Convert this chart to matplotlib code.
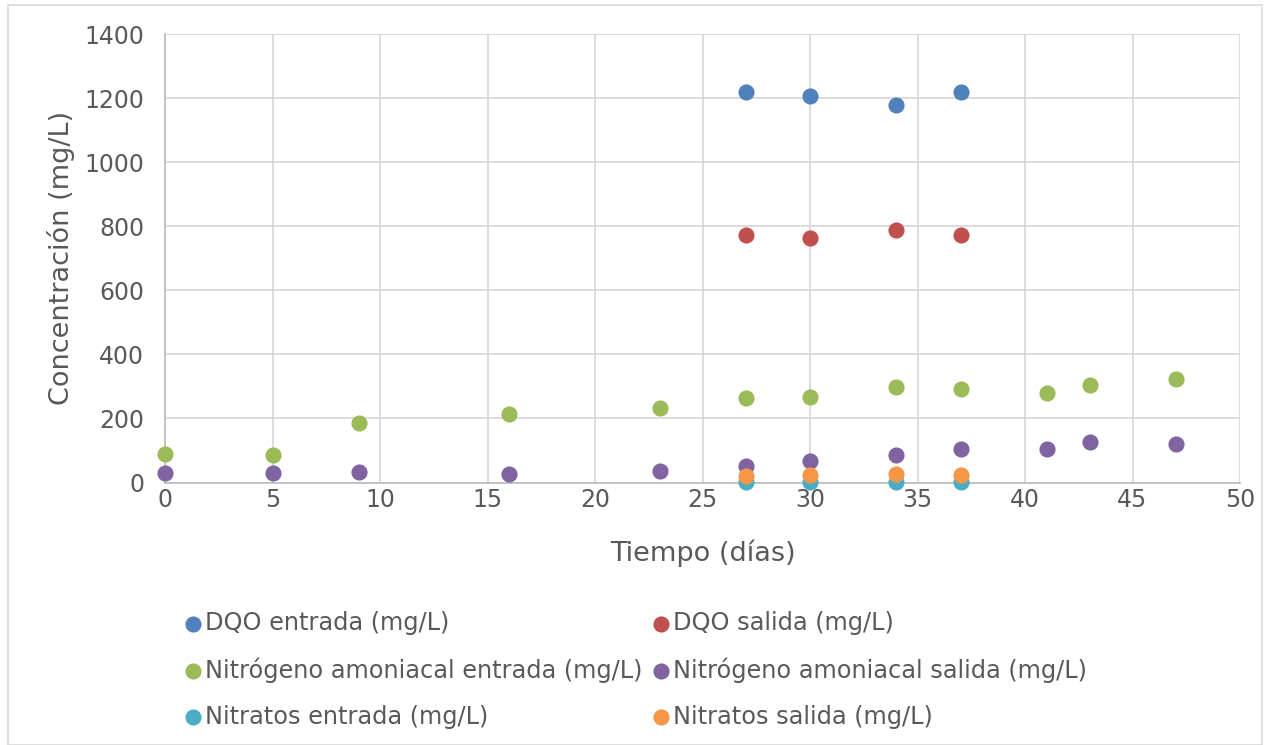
import matplotlib
matplotlib.use("Agg")
import matplotlib.pyplot as plt
from matplotlib.patches import Rectangle

plt.rcParams['font.family'] = ['DejaVu Sans']

days_dqo = [27, 30, 34, 37]
dqo_entrada = [1220, 1205, 1179, 1220]
dqo_salida = [772, 762, 788, 772]

days_n = [0, 5, 9, 16, 23, 27, 30, 34, 37, 41, 43, 47]
n_entrada = [89, 85, 187, 215, 234, 265, 267, 299, 292, 280, 305, 322]
n_salida = [30, 30, 32, 27, 35, 51, 68, 85, 105, 105, 127, 121]

days_nit = [27, 30, 34, 37]
nit_entrada = [3, 3, 3, 3]
nit_salida = [21, 22, 28, 23]

labels = ["DQO entrada (mg/L)", "DQO salida (mg/L)",
          "Nitrógeno amoniacal entrada (mg/L)", "Nitrógeno amoniacal salida (mg/L)",
          "Nitratos entrada (mg/L)", "Nitratos salida (mg/L)"]
colors = ["#4F81BD", "#C0504D", "#9BBB59", "#8064A2", "#4BACC6", "#F79646"]

xt = list(range(0, 51, 5))
yt = list(range(0, 1401, 200))

W, H = 1268, 745
fig = plt.figure(figsize=(W / 100, H / 100), dpi=100)
x0, x1 = 165, 1240
y0, y1 = 482.5, 34
ax = fig.add_axes([x0 / W, 1 - y0 / H, (x1 - x0) / W, (y0 - y1) / H])

series = [(days_dqo, dqo_entrada), (days_dqo, dqo_salida),
          (days_n, n_entrada), (days_n, n_salida),
          (days_nit, nit_entrada), (days_nit, nit_salida)]
zorders = [3, 3, 3, 4, 5, 6]
handles = []
for (x, y), c, l, z in zip(series, colors, labels, zorders):
    h = ax.scatter(x, y, s=135, color=c, label=l, zorder=z, linewidths=0,
                   clip_on=False)
    handles.append(h)

ax.set_xlim(0, 50)
ax.set_ylim(0, 1400)
ax.set_xticks(xt)
ax.set_yticks(yt)
txtc = "#595959"
ax.tick_params(axis='both', length=0, labelsize=17, colors=txtc)
ax.tick_params(axis='y', pad=15)
ax.tick_params(axis='x', pad=4)
ax.grid(True, color="#D9D9D9", linewidth=1.3, zorder=0)
for s in ['top', 'right']:
    ax.spines[s].set_visible(False)
for s in ['left', 'bottom']:
    ax.spines[s].set_color("#BFBFBF")
    ax.spines[s].set_linewidth(1.3)
ax.set_axisbelow(True)
ax.set_xlabel("Tiempo (días)", fontsize=19.5, color=txtc, labelpad=20)
ax.set_ylabel("Concentración (mg/L)", fontsize=19.5, color=txtc, labelpad=7)

def add_col(idx, xpos):
    leg = fig.legend([handles[i] for i in idx], [labels[i] for i in idx],
                     ncol=1, loc='upper left',
                     bbox_to_anchor=(xpos / W, 1 - 611 / H),
                     bbox_transform=fig.transFigure,
                     frameon=False, fontsize=17.3, handletextpad=0.0,
                     labelspacing=0.92, markerscale=1.0,
                     handlelength=1.0, borderaxespad=0, borderpad=0)
    for t in leg.get_texts():
        t.set_color(txtc)
    return leg

add_col([0, 2, 4], 181)
add_col([1, 3, 5], 649)

fig.patches.append(Rectangle((8 / W, 0), (1262 - 8) / W, 1 - 5 / H,
                             transform=fig.transFigure, fill=False,
                             edgecolor="#D9D9D9", linewidth=1.2))

fig.savefig("out.png", dpi=100)
